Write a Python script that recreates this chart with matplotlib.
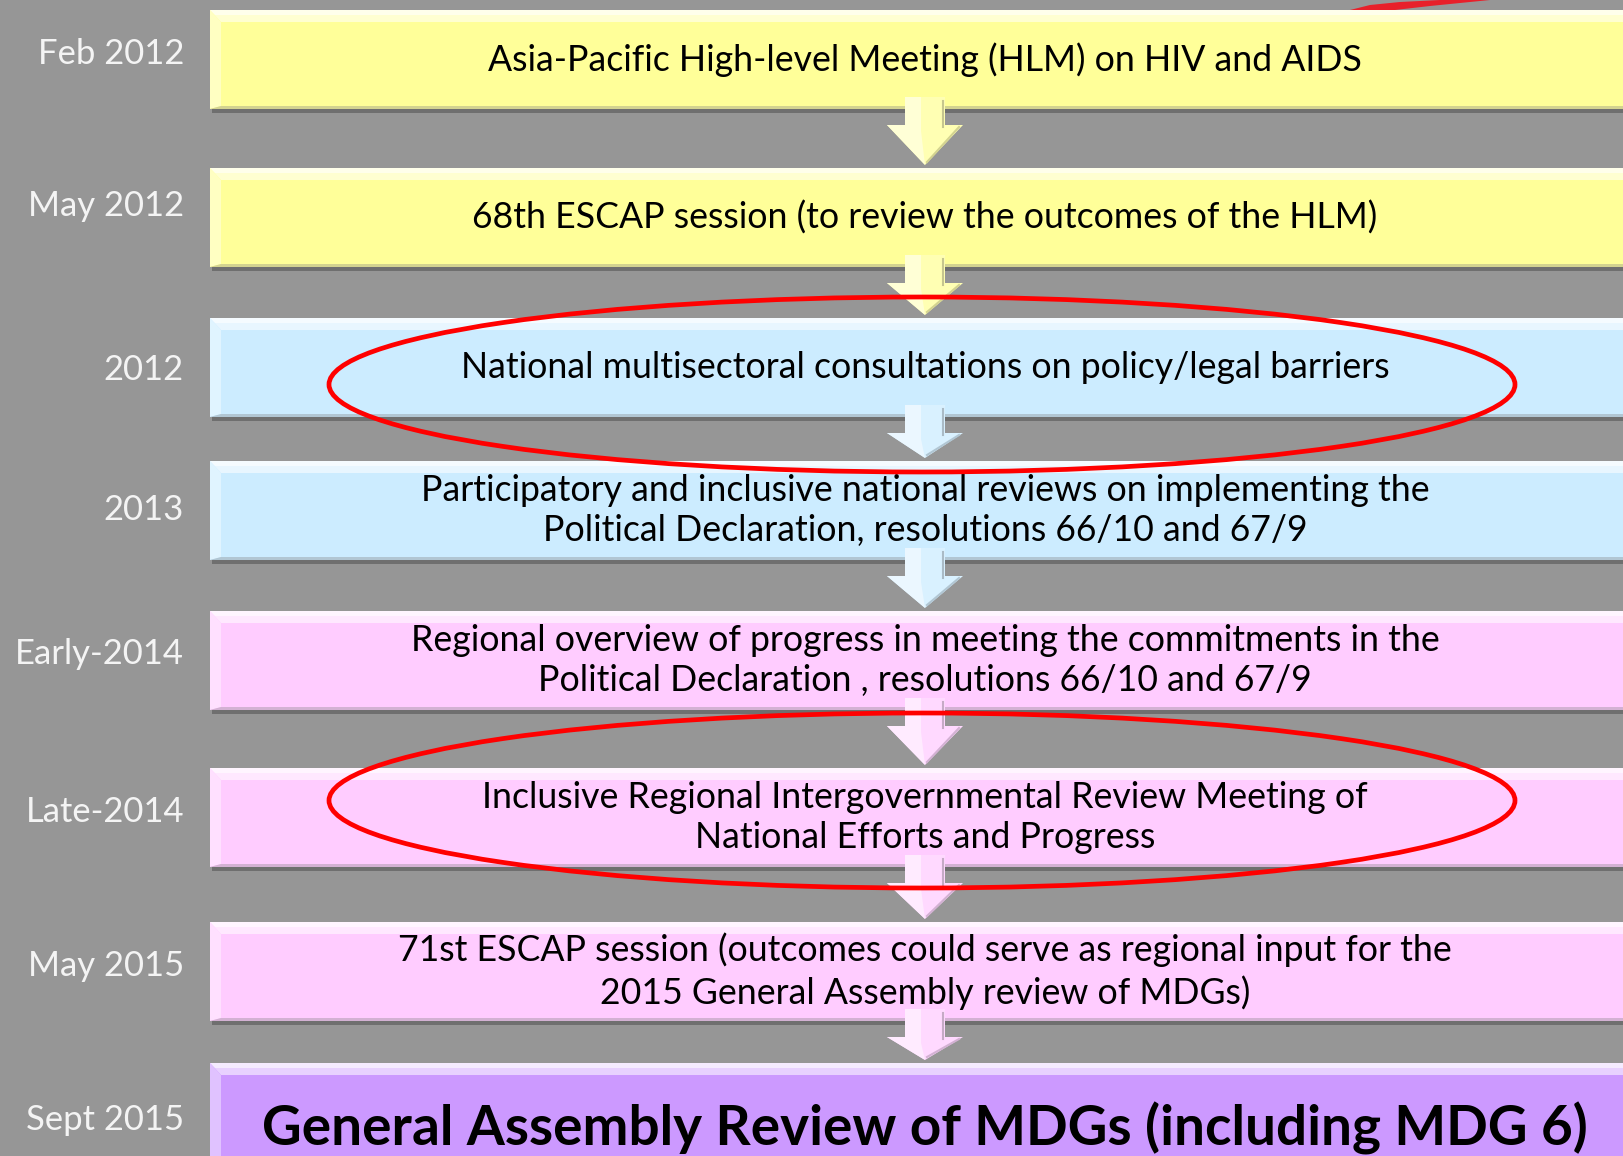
import matplotlib
matplotlib.use("Agg")
import matplotlib.pyplot as plt
from matplotlib.patches import Rectangle, Polygon, Ellipse
from matplotlib.colors import to_rgb

# ---------------- data ----------------
dates = ["Feb 2012", "May 2012", "2012", "2013", "Early-2014", "Late-2014",
         "May 2015", "Sept 2015"]
steps = [
    "Asia-Pacific High-level Meeting (HLM) on HIV and AIDS",
    "68th ESCAP session (to review the outcomes of the HLM)",
    "National multisectoral consultations on policy/legal barriers",
    "Participatory and inclusive national reviews on implementing the\nPolitical Declaration, resolutions 66/10 and 67/9",
    "Regional overview of progress in meeting the commitments in the\nPolitical Declaration , resolutions 66/10 and 67/9",
    "Inclusive Regional Intergovernmental Review Meeting of\nNational Efforts and Progress",
    "71st ESCAP session (outcomes could serve as regional input for the\n2015 General Assembly review of MDGs)",
    "General Assembly Review of MDGs (including MDG 6)",
]
phases = ["regional", "regional", "national", "national", "review", "review",
          "review", "final"]
highlighted_steps = [2, 5]

phase_colors = {"regional": "#FFFF99", "national": "#CCECFF",
                "review": "#FFCCFF", "final": "#CC99FF"}

# ---------------- layout ----------------
W, H = 1624, 1156
BG = "#969696"
box_tops = [10, 168, 318, 461, 611, 768, 922, 1063]
date_offsets = [-5, -11, 2, -1, -7, -5, -5, 7]
ellipse_offsets = {2: 17, 5: -17}
box_h = 99
box_x0, box_x1 = 210, 1650
center_x = 925
date_x = 184


def mix(c, other, t):
    a = to_rgb(c)
    b = to_rgb(other)
    return tuple(a[i] * (1 - t) + b[i] * t for i in range(3))


fig = plt.figure(figsize=(W / 100, H / 100), dpi=100)
fig.patch.set_facecolor(BG)
ax = fig.add_axes([0, 0, 1, 1])
ax.set_xlim(0, W)
ax.set_ylim(H, 0)
ax.axis("off")
ax.set_facecolor(BG)

FONT = ["Lato", "DejaVu Sans"]

for i, (date, text, ph) in enumerate(zip(dates, steps, phases)):
    col = phase_colors[ph]
    top = box_tops[i]
    bot = top + box_h
    # shadow
    ax.add_patch(Rectangle((box_x0 + 2, top + 4), box_x1 - box_x0, box_h,
                           facecolor="#6f6f6f", edgecolor="none", zorder=1))
    # main fill
    ax.add_patch(Rectangle((box_x0, top), box_x1 - box_x0, box_h,
                           facecolor=col, edgecolor="none", zorder=2))
    # bevel: top highlight
    ax.add_patch(Polygon([(box_x0, top), (box_x1, top), (box_x1, top + 12),
                          (box_x0 + 11, top + 12)], closed=True,
                         facecolor=mix(col, "white", 0.55), edgecolor="none", zorder=3))
    ax.add_patch(Polygon([(box_x0, top), (box_x1, top), (box_x1, top + 5),
                          (box_x0 + 5, top + 5)], closed=True,
                         facecolor=mix(col, "white", 0.8), edgecolor="none", zorder=3))
    # left highlight
    ax.add_patch(Polygon([(box_x0, top), (box_x0 + 11, top + 12),
                          (box_x0 + 11, bot - 3), (box_x0, bot)], closed=True,
                         facecolor=mix(col, "white", 0.4), edgecolor="none", zorder=3))
    # bottom darker edge
    ax.add_patch(Polygon([(box_x0, bot), (box_x0 + 11, bot - 3), (box_x1, bot - 3),
                          (box_x1, bot)], closed=True,
                         facecolor=mix(col, "#808080", 0.35), edgecolor="none", zorder=3))

    # text
    if ph == "final":
        ax.text(center_x, top + 65, text, ha="center", va="center",
                fontsize=39.5, fontweight="bold", color="black",
                family=FONT, zorder=6)
    else:
        ax.text(center_x, top + box_h / 2, text, ha="center", va="center",
                fontsize=25.7, color="black", family=FONT, zorder=6,
                linespacing=1.28)
    ax.text(date_x, top + box_h / 2 + date_offsets[i], date, ha="right",
            va="center", fontsize=24.9, color="#F4F4F4", family=FONT, zorder=6)

# arrows between consecutive steps
for i in range(len(steps) - 1):
    col = phase_colors[phases[i]]
    bot = box_tops[i] + box_h
    nxt = box_tops[i + 1]
    s_top = bot - 12
    h_top = bot + 16
    tip = nxt - 3
    sw, hw = 20, 38
    pts = [(center_x - sw, s_top), (center_x + sw, s_top), (center_x + sw, h_top),
           (center_x + hw, h_top), (center_x, tip), (center_x - hw, h_top),
           (center_x - sw, h_top)]
    ax.add_patch(Polygon(pts, closed=True, facecolor=mix(col, "white", 0.25),
                         edgecolor="none", zorder=4))
    # left highlight of the arrow
    ax.add_patch(Polygon([(center_x - sw, s_top), (center_x - 4, s_top),
                          (center_x - 4, h_top + 6), (center_x, tip),
                          (center_x - hw, h_top), (center_x - sw, h_top)],
                         closed=True, facecolor=mix(col, "white", 0.6),
                         edgecolor="none", zorder=4))
    # right darker edge
    ax.plot([center_x + sw - 2, center_x + sw - 2], [s_top + 4, h_top + 2],
            color=mix(col, "#808080", 0.45), lw=1.5, zorder=4)
    ax.plot([center_x + hw - 4, center_x + 2], [h_top + 2, tip - 3],
            color=mix(col, "#808080", 0.35), lw=1.5, zorder=4)

# red ellipses highlighting key steps
for i in highlighted_steps:
    cy = box_tops[i] + box_h / 2 + ellipse_offsets[i]
    ax.add_patch(Ellipse((922, cy), 1186, 175, facecolor="none",
                         edgecolor="#FF0000", lw=3.4, zorder=7))

# small red scribble at top right
ax.add_patch(Polygon([(1342, 12), (1370, 5), (1400, 2), (1440, 0), (1490, 0),
                      (1430, 6), (1395, 10), (1360, 13)], closed=True,
                     facecolor="#E8202A", edgecolor="none", zorder=1))

fig.savefig("out.png", dpi=100, facecolor=BG)
